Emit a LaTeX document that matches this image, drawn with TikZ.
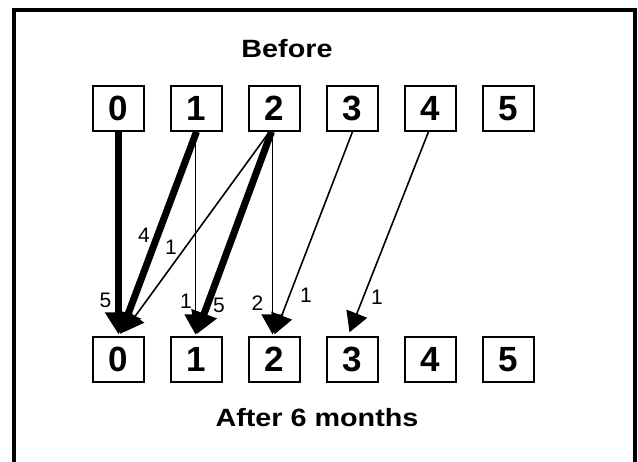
\documentclass[tikz,border=0pt]{standalone}
\usepackage{fontspec}
\setmainfont{Liberation Sans}
\newfontfamily\widefont[FakeStretch=1.15]{Liberation Sans}
\usetikzlibrary{arrows.meta}
\begin{document}
\begin{tikzpicture}[x=1pt,y=-1pt,
  box/.style={draw,line width=1.4pt,minimum width=51pt,minimum height=45pt,inner sep=0pt,
    font=\fontsize{35}{35}\selectfont\bfseries},
  thinarrow/.style={line width=1.6pt,-{Triangle[width=22pt,length=20pt]}},
  thickarrow/.style={line width=7pt,-{Triangle[width=26pt,length=22pt]}},
  lab/.style={font=\fontsize{21}{21}\selectfont,inner sep=0pt},
  titletext/.style={font=\fontsize{25}{26}\selectfont\widefont\bfseries,inner sep=0pt,anchor=base}]
\useasboundingbox (0,0) rectangle (638,462);
\draw[line width=4pt] (14,464) -- (14,10) -- (635,10) -- (635,464);
\node[titletext] (before) at (287,58) {Before};
\node[titletext] (after) at (317,427) {After 6 months};
% boxes
\foreach \i/\x in {0/118.5,1/196.5,2/274.5,3/352.5,4/430.5,5/508.5}{
  \node[box] (t\i) at (\x,108.5) {\raisebox{-4pt}{\i}};
  \node[box] (b\i) at (\x,359.5) {\i};
}
% arrows
\draw[thickarrow] (t0.south) -- ([yshift=2pt]b0.north);
\draw[thickarrow] (t1.south) -- ([xshift=2pt,yshift=2pt]b0.north);
\draw[thinarrow] ([xshift=-5pt]t2.south) -- ([xshift=5pt,yshift=4pt]b0.north);
\draw[thinarrow] ([xshift=-1pt]t1.south) -- ([xshift=-1pt,yshift=2pt]b1.north);
\draw[thickarrow] ([xshift=-3pt]t2.south) -- ([yshift=2pt]b1.north);
\draw[thinarrow] ([xshift=-2pt]t2.south) -- ([xshift=-2pt,yshift=2pt]b2.north);
\draw[thinarrow] (t3.south) -- ([yshift=2pt]b2.north);
\draw[thinarrow] ([xshift=-2pt]t4.south) -- ([xshift=-3pt,yshift=4pt]b3.north);
% labels
\node[lab] (l00) at (105.5,300) {5};
\node[lab] (l10) at (144,235) {4};
\node[lab] (l20) at (171,247) {1};
\node[lab] (l11) at (186,301) {1};
\node[lab] (l21) at (219,305) {5};
\node[lab] (l22) at (257.5,303) {2};
\node[lab] (l32) at (306,295) {1};
\node[lab] (l43) at (377,297) {1};
\end{tikzpicture}
\end{document}
